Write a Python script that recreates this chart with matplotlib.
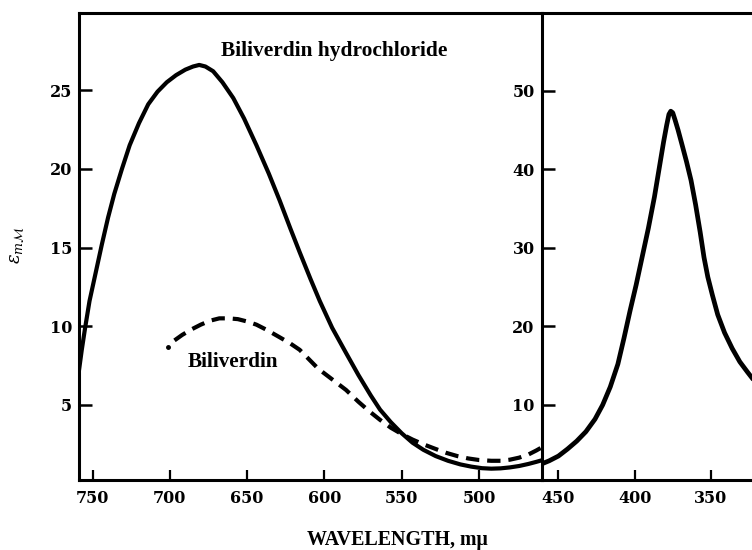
import matplotlib
matplotlib.use('Agg')
from matplotlib import pyplot as plt

plt.rcParams['mathtext.fontset'] = 'dejavuserif'

# Biliverdin hydrochloride, visible region (left scale)
hcl_nm = [758.8, 757, 755, 752, 748, 744, 740, 736, 731, 726, 720, 714,
          708, 702, 696, 690, 685, 681, 677, 672, 666, 659, 652, 644, 636,
          629, 622, 616, 609, 603, 595, 586, 578, 570, 564, 557, 550, 543,
          536, 528, 520, 512, 505, 498, 492, 486, 480, 474, 468, 463, 459.4]
hcl_eps = [7.2, 8.5, 9.8, 11.6, 13.4, 15.2, 16.9, 18.4, 20.0, 21.5, 22.9, 24.1,
           24.9, 25.5, 25.95, 26.3, 26.5, 26.6, 26.5, 26.2, 25.5, 24.5, 23.2, 21.5, 19.7,
           18.0, 16.2, 14.7, 13.0, 11.6, 9.9, 8.3, 6.9, 5.6, 4.7, 3.9, 3.2, 2.6,
           2.15, 1.75, 1.45, 1.22, 1.08, 0.98, 0.95, 0.97, 1.03, 1.12, 1.25, 1.38, 1.48]

# Biliverdin (dashed)
bv_nm = [697, 692, 686, 680, 674, 668, 662, 656, 650, 644, 637, 629, 622,
         616, 611, 604, 596, 586, 578, 571, 564, 557, 550, 543, 536, 528,
         521, 514, 507, 500, 492, 486, 480, 474, 468, 463, 459.4]
bv_eps = [9.1, 9.45, 9.8, 10.1, 10.35, 10.5, 10.5, 10.45, 10.3, 10.1, 9.75, 9.3, 8.9,
          8.5, 8.0, 7.3, 6.7, 5.95, 5.2, 4.6, 4.05, 3.55, 3.15, 2.8, 2.5, 2.2,
          1.95, 1.75, 1.6, 1.5, 1.45, 1.45, 1.52, 1.65, 1.85, 2.1, 2.3]
bv_dot = (701, 8.7)

# Biliverdin hydrochloride, Soret region (right scale)
soret_nm = [461, 456, 450, 444, 438, 432, 426, 421, 416, 411, 407, 403, 399,
            395, 391, 387, 384, 381, 379, 377.5, 376.3, 375, 373.5, 371.5, 369,
            366, 363, 360, 357, 354.5, 352, 349, 345.5, 341, 336, 331, 326, 322]
soret_eps = [2.5, 2.9, 3.5, 4.4, 5.4, 6.6, 8.2, 10.0, 12.3, 15.2, 18.5, 22.0, 25.3,
             28.9, 32.5, 36.5, 40.0, 43.5, 45.6, 47.0, 47.4, 47.2, 46.3, 45.0, 43.2,
             41.0, 38.6, 35.5, 32.0, 28.8, 26.3, 24.0, 21.5, 19.2, 17.2, 15.5, 14.2, 13.2]

left_xticks = [750, 700, 650, 600, 550, 500]
left_yticks = [5, 10, 15, 20, 25]
right_xticks = [450, 400, 350]
right_yticks = [10, 20, 30, 40, 50]

tick_font = {'family': 'DejaVu Serif', 'weight': 'bold', 'size': 11.5}
text_font = {'family': 'Liberation Serif', 'weight': 'bold'}

fig = plt.figure(figsize=(7.52, 5.5), dpi=100)
ax1 = fig.add_axes([0.10505, 0.12727, 0.6153, 0.8491])
ax2 = fig.add_axes([0.7203, 0.12727, 0.2797, 0.8491])

ax1.plot(hcl_nm, hcl_eps, color='black', lw=3.0, solid_capstyle='round',
         solid_joinstyle='round')
ax1.plot(bv_nm, bv_eps, color='black', lw=3.0, linestyle=(0, (3.2, 1.9)))
ax1.plot([bv_dot[0]], [bv_dot[1]], 'o', color='black', ms=2.5)
ax2.plot(soret_nm, soret_eps, color='black', lw=3.4, solid_capstyle='round',
         solid_joinstyle='round')

ax1.set_xlim(758.8, 459.4)
ax1.set_ylim(0.23, 29.9)
ax2.set_xlim(461, 323)
ax2.set_ylim(0.45, 59.9)

for ax, xt, yt in [(ax1, left_xticks, left_yticks), (ax2, right_xticks, right_yticks)]:
    ax.set_xticks(xt)
    ax.set_yticks(yt)
    ax.set_xticklabels([str(v) for v in xt], fontdict=tick_font)
    ax.set_yticklabels([str(v) for v in yt], fontdict=tick_font)
    ax.tick_params(axis='x', direction='in', length=7, width=1.6, pad=7)
    ax.tick_params(axis='y', direction='in', length=9, width=1.8, pad=5)
    for s in ['left', 'bottom', 'top']:
        ax.spines[s].set_linewidth(2.2)
    ax.spines['right'].set_visible(False)

ax1.text(667.1, 27.5, 'Biliverdin hydrochloride', fontdict=text_font,
         fontsize=15.4, ha='left', va='center')
ax1.text(688.7, 7.7, 'Biliverdin', fontdict=text_font,
         fontsize=15.3, ha='left', va='center')

fig.text(0.528, 0.009, 'WAVELENGTH, m\u03bc', fontdict=text_font,
         fontsize=14.4, ha='center', va='baseline')
fig.text(0.024, 0.555, r'$\epsilon_{m\mathcal{M}}$', fontsize=13,
         rotation=90, ha='center', va='center')

plt.savefig('out.png', dpi=100)
